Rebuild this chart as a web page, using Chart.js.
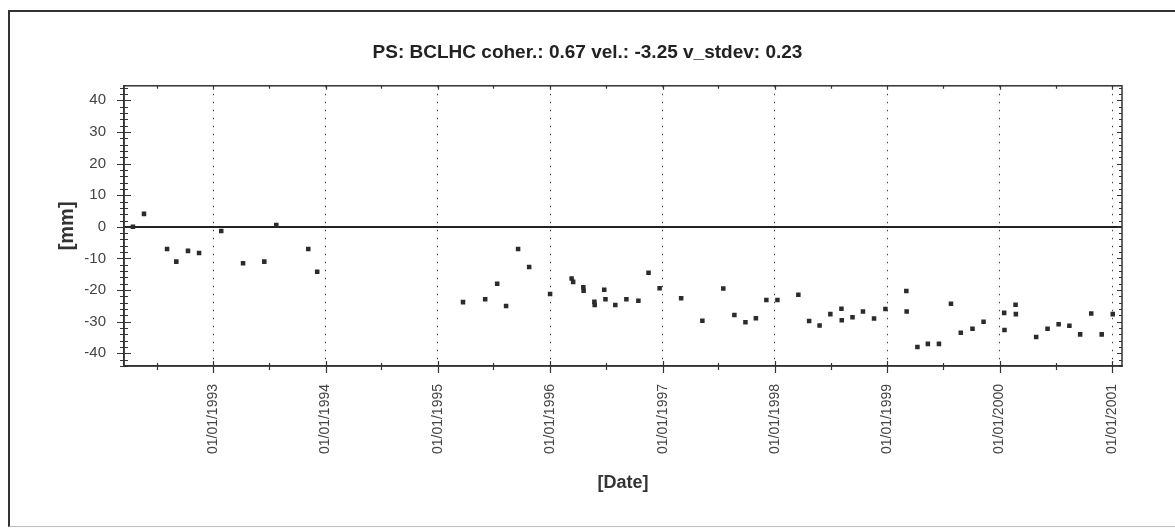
<!DOCTYPE html>
<html>
<head>
<meta charset="utf-8">
<script src="https://cdn.jsdelivr.net/npm/chart.js@4/dist/chart.umd.min.js"></script>
<style>
    html, body { margin: 0; padding: 0; background: #fff; overflow: hidden; }
    #frame {
        position: absolute; left: 8px; top: 10px; width: 1200px; height: 514px;
        border-top: 2px solid #333; border-left: 2px solid #333; border-bottom: 1px solid #bbb;
    }
    #wrap { position: absolute; left: 0; top: 0; width: 1175px; height: 529px; }
</style>
</head>
<body>
<div id="frame"></div>
<div id="wrap"><canvas id="psChart" width="1175" height="529"></canvas></div>
<script>
// Acquisition dates and displacement (mm) for PS BCLHC
const obsDates = [
    '1992-04-15', '1992-05-21', '1992-08-04', '1992-09-03', '1992-10-11', '1992-11-16',
    '1993-01-27', '1993-04-08', '1993-06-16', '1993-07-25', '1993-11-06', '1993-12-05',
    '1995-03-24', '1995-06-04', '1995-07-13', '1995-08-11', '1995-09-19', '1995-10-25',
    '1996-01-01', '1996-03-11', '1996-03-16', '1996-04-18', '1996-04-19', '1996-05-24',
    '1996-05-25', '1996-06-25', '1996-06-29', '1996-07-31', '1996-09-05', '1996-10-14',
    '1996-11-16', '1996-12-22', '1997-03-02', '1997-05-10', '1997-07-17', '1997-08-22',
    '1997-09-27', '1997-10-31', '1997-12-04', '1998-01-09', '1998-03-18', '1998-04-22',
    '1998-05-26', '1998-06-30', '1998-08-05', '1998-08-06', '1998-09-10', '1998-10-14',
    '1998-11-19', '1998-12-26', '1999-03-04', '1999-03-05', '1999-04-09', '1999-05-13',
    '1999-06-18', '1999-07-27', '1999-08-28', '1999-10-05', '1999-11-10', '2000-01-16',
    '2000-01-17', '2000-02-22', '2000-02-23', '2000-04-29', '2000-06-05', '2000-07-11',
    '2000-08-15', '2000-09-19', '2000-10-25', '2000-11-28', '2001-01-03'
];
const dispMm = [
    0, 4.1, -7, -11, -7.6, -8.3,
    -1.3, -11.5, -11, 0.6, -7, -14.2,
    -23.8, -22.9, -18, -25, -7, -12.7,
    -21.2, -16.3, -17.4, -19.1, -20.2, -23.7,
    -24.7, -19.9, -22.9, -24.7, -22.9, -23.4,
    -14.5, -19.4, -22.6, -29.7, -19.5, -27.9,
    -30.2, -28.9, -23.1, -23.1, -21.5, -29.8,
    -31.2, -27.6, -25.9, -29.5, -28.6, -26.8,
    -29, -26, -20.3, -26.8, -38, -37,
    -37, -24.3, -33.5, -32.2, -30, -27.2,
    -32.6, -24.6, -27.6, -34.8, -32.2, -30.8,
    -31.3, -34, -27.4, -34, -27.6
];

// Axis ticks
const yearTicks = ['1993-01-01', '1994-01-01', '1995-01-01', '1996-01-01', '1997-01-01',
    '1998-01-01', '1999-01-01', '2000-01-01', '2001-01-01'];
const yearLabels = ['01/01/1993', '01/01/1994', '01/01/1995', '01/01/1996', '01/01/1997',
    '01/01/1998', '01/01/1999', '01/01/2000', '01/01/2001'];
const midYearTicks = ['1992-07-01', '1993-07-01', '1994-07-01', '1995-07-01', '1996-07-01',
    '1997-07-01', '1998-07-01', '1999-07-01', '2000-07-01'];
const yTicks = [40, 30, 20, 10, 0, -10, -20, -30, -40];
const xRange = ['1992-03-17', '2001-02-02'];
const yRange = [-44, 44.6];

const titleText = 'PS: BCLHC coher.: 0.67 vel.: -3.25 v_stdev: 0.23';

const points = obsDates.map((d, i) => ({ x: Date.parse(d), y: dispMm[i] }));
const yearValues = yearTicks.map(d => Date.parse(d));
const midValues = midYearTicks.map(d => Date.parse(d));

// Box round the plot plus the small tick marks on every side
const axisTicksPlugin = {
    id: 'axisTicks',
    afterDraw(chart) {
        const ctx = chart.ctx;
        const area = chart.chartArea;
        const xs = chart.scales.x;
        const ys = chart.scales.y;
        ctx.save();
        ctx.strokeStyle = '#333';
        ctx.lineWidth = 1.5;
        ctx.strokeRect(area.left, area.top, area.right - area.left, area.bottom - area.top);

        ctx.lineWidth = 1.2;
        ctx.beginPath();
        // y axis: major every 10, minor every 2
        for (let v = -44; v <= 44; v += 2) {
            const py = Math.round(ys.getPixelForValue(v)) + 0.5;
            const big = v % 10 === 0;
            const len = big ? 7 : 4;
            ctx.moveTo(area.left - len, py);
            ctx.lineTo(area.left + len, py);
            ctx.moveTo(area.right - (big ? 5 : 3), py);
            ctx.lineTo(area.right, py);
        }
        // x axis: years and mid-years
        yearValues.forEach(v => {
            const px = Math.round(xs.getPixelForValue(v)) + 0.5;
            ctx.moveTo(px, area.bottom - 5);
            ctx.lineTo(px, area.bottom + 7);
            ctx.moveTo(px, area.top);
            ctx.lineTo(px, area.top + 4);
        });
        midValues.forEach(v => {
            const px = Math.round(xs.getPixelForValue(v)) + 0.5;
            if (px < area.left) return;
            ctx.moveTo(px, area.bottom - 3);
            ctx.lineTo(px, area.bottom + 4);
            ctx.moveTo(px, area.top);
            ctx.lineTo(px, area.top + 3);
        });
        ctx.stroke();
        ctx.restore();
    }
};

const chart = new Chart(document.getElementById('psChart'), {
    type: 'scatter',
    data: {
        datasets: [{
            label: 'BCLHC',
            data: points,
            pointStyle: 'rect',
            pointRadius: 3.2,
            pointHoverRadius: 3.2,
            pointBackgroundColor: '#2b2b2b',
            pointBorderWidth: 0,
            showLine: false
        }]
    },
    options: {
        responsive: false,
        animation: false,
        layout: { padding: { left: 0, right: 0, top: 0, bottom: 0 } },
        plugins: {
            legend: { display: false },
            tooltip: { enabled: false },
            title: {
                display: true,
                text: titleText,
                color: '#222',
                font: { family: 'Liberation Sans, Arial, sans-serif', size: 19, weight: 'bold' },
                padding: { top: 41, bottom: 22 }
            }
        },
        scales: {
            x: {
                type: 'linear',
                min: Date.parse(xRange[0]),
                max: Date.parse(xRange[1]),
                afterBuildTicks: scale => { scale.ticks = yearValues.map(v => ({ value: v })); },
                afterFit: scale => { scale.height = 163; },
                grid: { color: '#444', lineWidth: 1, drawTicks: false },
                border: { display: true, color: '#333', width: 1.5, dash: [1.5, 6.5] },
                ticks: {
                    autoSkip: false,
                    minRotation: 90,
                    maxRotation: 90,
                    padding: 18,
                    color: '#444',
                    font: { family: 'Liberation Sans, Arial, sans-serif', size: 14 },
                    callback: (value, i) => yearLabels[i]
                },
                title: {
                    display: true,
                    text: '[Date]',
                    color: '#333',
                    font: { family: 'Liberation Sans, Arial, sans-serif', size: 18, weight: 'bold' },
                    padding: { top: 0, bottom: 35 }
                }
            },
            y: {
                min: yRange[0],
                max: yRange[1],
                afterBuildTicks: scale => { scale.ticks = yTicks.map(v => ({ value: v })); },
                afterFit: scale => { scale.width = 124; },
                grid: {
                    drawTicks: false,
                    color: c => (c.tick && c.tick.value === 0) ? '#222' : 'rgba(0,0,0,0)',
                    lineWidth: c => (c.tick && c.tick.value === 0) ? 2 : 0
                },
                border: { display: true, color: '#333', width: 1.5 },
                ticks: {
                    padding: 18,
                    color: '#444',
                    font: { family: 'Liberation Sans, Arial, sans-serif', size: 15 }
                },
                title: {
                    display: true,
                    text: '[mm]',
                    color: '#333',
                    font: { family: 'Liberation Sans, Arial, sans-serif', size: 20, weight: 'bold' },
                    padding: { top: 55, bottom: 0 }
                }
            },
            // empty right-hand strip so the title stays centred on the whole frame
            yRight: {
                position: 'right',
                min: yRange[0],
                max: yRange[1],
                afterFit: scale => { scale.width = 53; },
                grid: { display: false, drawTicks: false },
                border: { display: false },
                ticks: { display: false }
            }
        }
    },
    plugins: [axisTicksPlugin]
});
</script>
</body>
</html>
